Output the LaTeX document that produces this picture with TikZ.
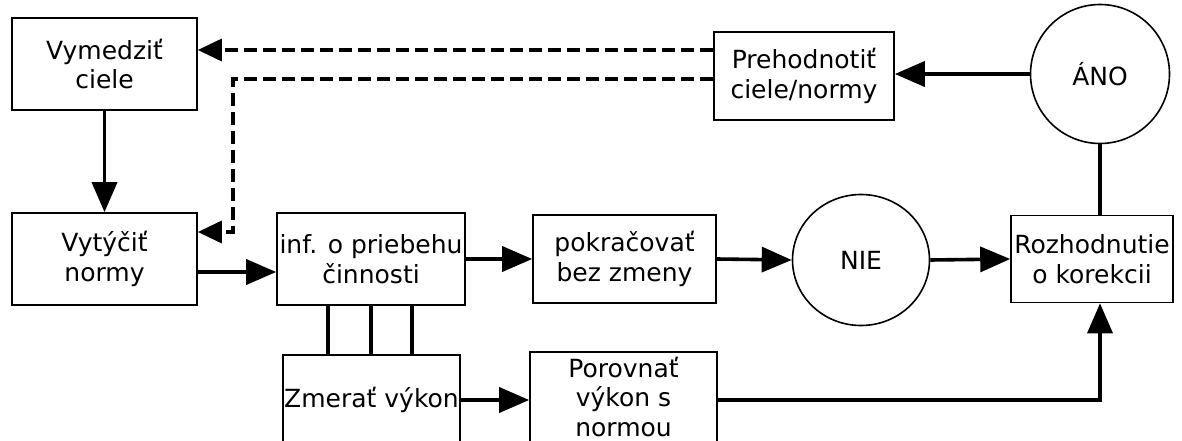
\documentclass[tikz,border=0pt]{standalone}
\usepackage{fontspec}
\setmainfont{DejaVu Sans}
\usetikzlibrary{arrows.meta,shapes.geometric}
\begin{document}
\begin{tikzpicture}[x=1pt,y=-1pt,
  box/.style={draw,line width=1.6pt,rectangle,inner sep=1pt,align=center,
    font=\fontsize{25}{29.5}\selectfont},
  oval/.style={draw,line width=1.6pt,ellipse,inner sep=0pt,
    font=\fontsize{25}{29.5}\selectfont},
  flow/.style={line width=3.6pt,-{Triangle[length=30pt,width=25pt]}},
  link/.style={line width=3.6pt},
  back/.style={line width=3.4pt,dash pattern=on 13pt off 6pt,
    -{Triangle[length=24pt,width=22pt]}}]
\useasboundingbox (0,0) rectangle (1182,441);
\clip (0,0) rectangle (1182,441);

% boxes of the control loop
\node[box,minimum width=185pt,minimum height=92pt] (vym) at (104.5,64) {Vymedziť\\ciele};
\node[box,minimum width=185pt,minimum height=92pt] (vyt) at (104.5,259) {Vytýčiť\\normy};
\node[box,minimum width=188pt,minimum height=92pt] (inf) at (371,259) {inf. o priebehu\\činnosti};
\node[box,minimum width=183pt,minimum height=88pt] (pok) at (624.5,259) {pokračovať\\bez zmeny};
\node[oval,minimum width=137pt,minimum height=131pt] (nie) at (861,260) {NIE};
\node[box,minimum width=162pt,minimum height=87pt] (roz) at (1092,259) {Rozhodnutie\\o korekcii};
\node[oval,minimum width=139pt,minimum height=139pt] (ano) at (1100,74) {ÁNO};
\node[box,minimum width=180pt,minimum height=88pt] (pre) at (804,76) {Prehodnotiť\\ciele/normy};
\node[box,minimum width=177pt,minimum height=90pt] (zme) at (371.5,400) {Zmerať výkon};
\node[box,minimum width=187pt,minimum height=90pt] (por) at (623.5,397) {Porovnať\\výkon s\\normou};

% main flow
\draw[flow] (vym.south) -- (vyt.north);
\draw[flow] ([yshift=-13pt]vyt.east) -- ([yshift=-13pt]inf.west);
\draw[flow] (inf.east) -- (pok.west);
\draw[flow] (pok.east) -- (nie.west);
\draw[flow] (nie.east) -- (roz.west);
\draw[flow] (zme.east) -- (zme.east -| por.west);
\draw[flow] (por.east |- zme.east) -| (ano.south |- roz.south);
\draw[link] (ano.south) -- (ano.south |- roz.north);
\draw[flow] (ano.west) -- (pre.east |- ano.west);

% links between the activity and the measurement
\foreach \dx in {-43,0,41}
  \draw[link] ([xshift=\dx pt]inf.south) -- ([xshift=\dx pt]inf.south |- zme.north);

% feedback to goals and norms
\coordinate (turn) at (233,232);
\draw[back] ([yshift=26pt]pre.west) -- ([yshift=26pt]pre.west -| vym.east);
\draw[back] ([yshift=-3pt]pre.west) -| (turn) -- (turn -| vyt.east);
\end{tikzpicture}
\end{document}
